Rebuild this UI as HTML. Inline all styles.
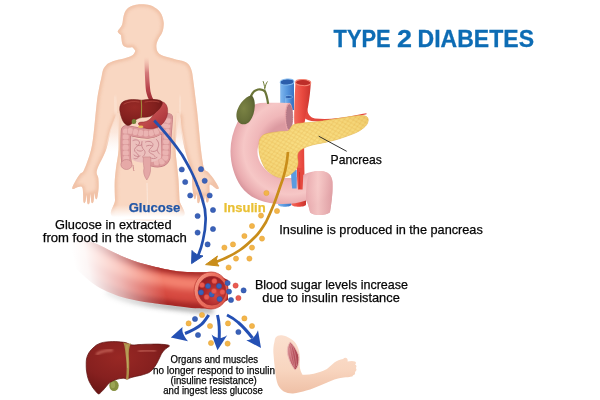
<!DOCTYPE html>
<html lang="en"><head><meta charset="utf-8"><title>Type 2 Diabetes</title>
<style>
html,body{margin:0;padding:0;background:#fff;}
body{width:600px;height:400px;overflow:hidden;font-family:"Liberation Sans",sans-serif;}
svg{display:block;}
text{font-family:"Liberation Sans",sans-serif;}
</style></head><body>
<svg width="600" height="400" viewBox="0 0 600 400">
<defs>
  <linearGradient id="bodyFade" x1="0" y1="0" x2="0" y2="1" gradientUnits="objectBoundingBox">
    <stop offset="0" stop-color="#fff" stop-opacity="0"/>
    <stop offset="1" stop-color="#fff" stop-opacity="1"/>
  </linearGradient>
  <linearGradient id="skin" x1="0" y1="0" x2="1" y2="0">
    <stop offset="0" stop-color="#f9d8c4"/>
    <stop offset="1" stop-color="#f7d0b9"/>
  </linearGradient>
</defs>
<rect width="600" height="400" fill="#fff"/>

<defs>
  <linearGradient id="gapFade" x1="0" y1="113" x2="0" y2="152" gradientUnits="userSpaceOnUse">
    <stop offset="0" stop-color="#f9d9c6" stop-opacity="1"/>
    <stop offset="0.5" stop-color="#fbe3d5" stop-opacity="0.800"/>
    <stop offset="1" stop-color="#fdeee6" stop-opacity="0"/>
  </linearGradient>
</defs>
<defs>
  <clipPath id="bodyClip"><path d="M142.0,4.3 C144.0,4.4 147.7,4.6 150.0,5.3 C152.3,6.0 154.3,7.2 156.0,8.3 C157.7,9.4 158.9,10.6 160.0,12.0 C161.1,13.4 161.9,15.2 162.5,17.0 C163.1,18.8 163.5,20.8 163.7,22.5 C163.9,24.2 163.6,25.8 163.5,27.0 C163.4,28.2 163.3,28.8 163.0,30.0 C162.7,31.2 162.1,32.8 161.5,34.0 C160.9,35.2 159.9,36.2 159.2,37.5 C158.5,38.8 157.8,40.2 157.3,41.5 C156.8,42.8 156.5,43.9 156.4,45.0 C156.3,46.1 156.4,47.0 156.5,48.0 C156.6,49.0 156.7,50.0 157.2,51.0 C157.7,52.0 158.4,53.2 159.5,54.0 C160.6,54.8 161.9,55.4 163.5,56.0 C165.1,56.6 167.1,57.1 169.0,57.6 C170.9,58.1 172.8,58.7 175.0,59.2 C177.2,59.7 180.0,60.2 182.0,60.8 C184.0,61.4 185.7,62.0 187.0,63.0 C188.3,64.0 189.2,65.0 190.0,66.5 C190.8,68.0 191.5,69.8 192.0,72.0 C192.5,74.2 192.8,77.0 193.2,80.0 C193.6,83.0 193.9,85.0 194.5,90.0 C195.1,95.0 196.2,103.3 197.0,110.0 C197.8,116.7 198.3,123.3 199.0,130.0 C199.7,136.7 200.2,143.7 201.0,150.0 C201.8,156.3 202.8,164.3 204.0,168.0 C205.2,171.7 206.5,170.3 208.0,172.0 C209.5,173.7 211.2,175.5 213.0,178.0 C214.8,180.5 217.8,185.2 218.5,187.0 C219.2,188.8 218.4,189.4 217.0,189.0 C215.6,188.6 211.2,184.0 210.0,184.5 C208.8,185.0 209.8,189.2 209.5,192.0 C209.2,194.8 209.0,199.3 208.5,201.0 C208.0,202.7 207.1,203.0 206.5,202.0 C205.9,201.0 205.4,194.8 205.0,195.0 C204.6,195.2 204.5,201.6 204.0,203.0 C203.5,204.4 202.5,204.8 202.0,203.5 C201.5,202.2 201.4,195.2 201.0,195.0 C200.6,194.8 200.1,200.8 199.5,202.0 C198.9,203.2 197.9,203.8 197.5,202.5 C197.1,201.2 197.3,194.7 197.0,194.0 C196.7,193.3 196.0,197.8 195.5,198.5 C195.0,199.2 194.5,199.8 194.0,198.0 C193.5,196.2 192.8,191.3 192.5,188.0 C192.2,184.7 192.2,181.0 192.0,178.0 C191.8,175.0 192.2,174.7 191.0,170.0 C189.8,165.3 186.7,156.7 185.0,150.0 C183.3,143.3 181.8,135.0 181.0,130.0 C180.2,125.0 180.7,122.4 180.5,120.0 C180.3,117.6 180.1,115.5 179.8,115.5 C179.5,115.5 179.1,117.6 178.6,120.0 C178.1,122.4 177.5,125.3 177.0,130.0 C176.5,134.7 175.5,142.2 175.5,148.0 C175.5,153.8 176.5,159.7 177.0,165.0 C177.5,170.3 178.1,174.2 178.5,180.0 C178.9,185.8 179.2,193.7 179.5,200.0 C179.8,206.3 190.6,215.0 180.0,218.0 C169.4,221.0 126.6,221.0 115.8,218.0 C105.0,215.0 115.2,206.0 115.0,200.0 C114.8,194.0 114.5,187.3 114.7,182.0 C114.9,176.7 115.4,173.3 116.0,168.0 C116.6,162.7 118.2,156.3 118.5,150.0 C118.8,143.7 118.2,135.0 118.0,130.0 C117.8,125.0 117.7,122.4 117.5,120.0 C117.3,117.6 117.0,115.5 116.6,115.5 C116.2,115.5 115.9,117.6 115.0,120.0 C114.1,122.4 112.5,125.0 111.0,130.0 C109.5,135.0 108.3,143.3 106.0,150.0 C103.7,156.7 98.3,165.3 97.0,170.0 C95.7,174.7 98.0,175.0 98.3,178.0 C98.6,181.0 98.8,184.7 98.6,188.0 C98.4,191.3 97.7,196.2 97.2,198.0 C96.7,199.8 96.0,199.3 95.5,198.5 C95.0,197.7 94.8,192.5 94.5,193.0 C94.2,193.5 94.0,199.9 93.5,201.5 C93.0,203.1 92.0,203.8 91.5,202.5 C91.0,201.2 90.8,193.9 90.5,194.0 C90.2,194.1 90.0,201.4 89.5,203.0 C89.0,204.6 88.0,204.8 87.5,203.5 C87.0,202.2 86.8,195.3 86.5,195.0 C86.2,194.7 86.0,200.3 85.5,201.5 C85.0,202.7 84.0,204.2 83.5,202.0 C83.0,199.8 83.4,190.5 82.5,188.0 C81.6,185.5 79.5,186.8 78.0,187.0 C76.5,187.2 74.5,188.9 73.5,189.0 C72.5,189.1 71.9,189.0 72.3,187.5 C72.7,186.0 74.7,182.2 76.0,180.0 C77.3,177.8 78.7,175.7 80.0,174.0 C81.3,172.3 82.2,174.0 84.0,170.0 C85.8,166.0 89.3,156.7 91.0,150.0 C92.7,143.3 93.2,136.7 94.0,130.0 C94.8,123.3 95.4,115.5 96.0,110.0 C96.6,104.5 96.9,101.0 97.5,97.0 C98.1,93.0 98.9,89.2 99.5,86.0 C100.1,82.8 100.7,80.7 101.3,78.0 C101.9,75.3 102.3,72.0 103.0,70.0 C103.7,68.0 104.6,67.1 105.5,66.0 C106.4,64.9 107.2,64.1 108.5,63.3 C109.8,62.5 111.4,61.8 113.0,61.2 C114.6,60.6 116.2,60.3 118.0,59.8 C119.8,59.3 122.0,58.9 124.0,58.4 C126.0,57.9 128.4,57.2 130.0,56.5 C131.6,55.8 132.6,55.1 133.5,54.2 C134.4,53.3 135.1,51.9 135.2,51.0 C135.3,50.1 134.5,49.6 134.0,49.0 C133.5,48.4 133.0,47.5 132.2,47.3 C131.4,47.0 130.0,47.5 129.0,47.5 C128.0,47.5 127.0,47.4 126.2,47.2 C125.4,47.0 124.6,46.8 124.0,46.3 C123.4,45.8 122.9,45.0 122.5,44.2 C122.1,43.4 122.0,42.4 121.8,41.5 C121.6,40.6 121.6,39.8 121.5,39.0 C121.4,38.2 121.3,37.6 121.2,37.0 C121.1,36.4 121.4,35.8 121.0,35.2 C120.6,34.6 119.5,34.1 119.0,33.5 C118.5,32.9 117.7,32.2 117.7,31.5 C117.7,30.8 118.4,30.1 118.8,29.5 C119.2,28.9 119.7,28.4 120.2,27.7 C120.7,27.0 121.3,26.3 121.7,25.5 C122.1,24.7 122.2,24.2 122.5,23.0 C122.8,21.8 122.9,19.7 123.2,18.0 C123.5,16.3 123.9,14.5 124.5,13.0 C125.1,11.5 126.0,10.1 127.0,9.0 C128.0,7.9 129.3,7.1 130.5,6.5 C131.7,5.9 132.8,5.5 134.0,5.2 C135.2,4.9 136.7,4.6 138.0,4.4 C139.3,4.2 140.0,4.2 142.0,4.3 Z"/></clipPath>
  <filter id="bblur" x="-10%" y="-10%" width="120%" height="120%"><feGaussianBlur stdDeviation="1.800"/></filter>
</defs>
<g id="human">
  <path fill="#f9d7c2" d="M142.0,4.3 C144.0,4.4 147.7,4.6 150.0,5.3 C152.3,6.0 154.3,7.2 156.0,8.3 C157.7,9.4 158.9,10.6 160.0,12.0 C161.1,13.4 161.9,15.2 162.5,17.0 C163.1,18.8 163.5,20.8 163.7,22.5 C163.9,24.2 163.6,25.8 163.5,27.0 C163.4,28.2 163.3,28.8 163.0,30.0 C162.7,31.2 162.1,32.8 161.5,34.0 C160.9,35.2 159.9,36.2 159.2,37.5 C158.5,38.8 157.8,40.2 157.3,41.5 C156.8,42.8 156.5,43.9 156.4,45.0 C156.3,46.1 156.4,47.0 156.5,48.0 C156.6,49.0 156.7,50.0 157.2,51.0 C157.7,52.0 158.4,53.2 159.5,54.0 C160.6,54.8 161.9,55.4 163.5,56.0 C165.1,56.6 167.1,57.1 169.0,57.6 C170.9,58.1 172.8,58.7 175.0,59.2 C177.2,59.7 180.0,60.2 182.0,60.8 C184.0,61.4 185.7,62.0 187.0,63.0 C188.3,64.0 189.2,65.0 190.0,66.5 C190.8,68.0 191.5,69.8 192.0,72.0 C192.5,74.2 192.8,77.0 193.2,80.0 C193.6,83.0 193.9,85.0 194.5,90.0 C195.1,95.0 196.2,103.3 197.0,110.0 C197.8,116.7 198.3,123.3 199.0,130.0 C199.7,136.7 200.2,143.7 201.0,150.0 C201.8,156.3 202.8,164.3 204.0,168.0 C205.2,171.7 206.5,170.3 208.0,172.0 C209.5,173.7 211.2,175.5 213.0,178.0 C214.8,180.5 217.8,185.2 218.5,187.0 C219.2,188.8 218.4,189.4 217.0,189.0 C215.6,188.6 211.2,184.0 210.0,184.5 C208.8,185.0 209.8,189.2 209.5,192.0 C209.2,194.8 209.0,199.3 208.5,201.0 C208.0,202.7 207.1,203.0 206.5,202.0 C205.9,201.0 205.4,194.8 205.0,195.0 C204.6,195.2 204.5,201.6 204.0,203.0 C203.5,204.4 202.5,204.8 202.0,203.5 C201.5,202.2 201.4,195.2 201.0,195.0 C200.6,194.8 200.1,200.8 199.5,202.0 C198.9,203.2 197.9,203.8 197.5,202.5 C197.1,201.2 197.3,194.7 197.0,194.0 C196.7,193.3 196.0,197.8 195.5,198.5 C195.0,199.2 194.5,199.8 194.0,198.0 C193.5,196.2 192.8,191.3 192.5,188.0 C192.2,184.7 192.2,181.0 192.0,178.0 C191.8,175.0 192.2,174.7 191.0,170.0 C189.8,165.3 186.7,156.7 185.0,150.0 C183.3,143.3 181.8,135.0 181.0,130.0 C180.2,125.0 180.7,122.4 180.5,120.0 C180.3,117.6 180.1,115.5 179.8,115.5 C179.5,115.5 179.1,117.6 178.6,120.0 C178.1,122.4 177.5,125.3 177.0,130.0 C176.5,134.7 175.5,142.2 175.5,148.0 C175.5,153.8 176.5,159.7 177.0,165.0 C177.5,170.3 178.1,174.2 178.5,180.0 C178.9,185.8 179.2,193.7 179.5,200.0 C179.8,206.3 190.6,215.0 180.0,218.0 C169.4,221.0 126.6,221.0 115.8,218.0 C105.0,215.0 115.2,206.0 115.0,200.0 C114.8,194.0 114.5,187.3 114.7,182.0 C114.9,176.7 115.4,173.3 116.0,168.0 C116.6,162.7 118.2,156.3 118.5,150.0 C118.8,143.7 118.2,135.0 118.0,130.0 C117.8,125.0 117.7,122.4 117.5,120.0 C117.3,117.6 117.0,115.5 116.6,115.5 C116.2,115.5 115.9,117.6 115.0,120.0 C114.1,122.4 112.5,125.0 111.0,130.0 C109.5,135.0 108.3,143.3 106.0,150.0 C103.7,156.7 98.3,165.3 97.0,170.0 C95.7,174.7 98.0,175.0 98.3,178.0 C98.6,181.0 98.8,184.7 98.6,188.0 C98.4,191.3 97.7,196.2 97.2,198.0 C96.7,199.8 96.0,199.3 95.5,198.5 C95.0,197.7 94.8,192.5 94.5,193.0 C94.2,193.5 94.0,199.9 93.5,201.5 C93.0,203.1 92.0,203.8 91.5,202.5 C91.0,201.2 90.8,193.9 90.5,194.0 C90.2,194.1 90.0,201.4 89.5,203.0 C89.0,204.6 88.0,204.8 87.5,203.5 C87.0,202.2 86.8,195.3 86.5,195.0 C86.2,194.7 86.0,200.3 85.5,201.5 C85.0,202.7 84.0,204.2 83.5,202.0 C83.0,199.8 83.4,190.5 82.5,188.0 C81.6,185.5 79.5,186.8 78.0,187.0 C76.5,187.2 74.5,188.9 73.5,189.0 C72.5,189.1 71.9,189.0 72.3,187.5 C72.7,186.0 74.7,182.2 76.0,180.0 C77.3,177.8 78.7,175.7 80.0,174.0 C81.3,172.3 82.2,174.0 84.0,170.0 C85.8,166.0 89.3,156.7 91.0,150.0 C92.7,143.3 93.2,136.7 94.0,130.0 C94.8,123.3 95.4,115.5 96.0,110.0 C96.6,104.5 96.9,101.0 97.5,97.0 C98.1,93.0 98.9,89.2 99.5,86.0 C100.1,82.8 100.7,80.7 101.3,78.0 C101.9,75.3 102.3,72.0 103.0,70.0 C103.7,68.0 104.6,67.1 105.5,66.0 C106.4,64.9 107.2,64.1 108.5,63.3 C109.8,62.5 111.4,61.8 113.0,61.2 C114.6,60.6 116.2,60.3 118.0,59.8 C119.8,59.3 122.0,58.9 124.0,58.4 C126.0,57.9 128.4,57.2 130.0,56.5 C131.6,55.8 132.6,55.1 133.5,54.2 C134.4,53.3 135.1,51.9 135.2,51.0 C135.3,50.1 134.5,49.6 134.0,49.0 C133.5,48.4 133.0,47.5 132.2,47.3 C131.4,47.0 130.0,47.5 129.0,47.5 C128.0,47.5 127.0,47.4 126.2,47.2 C125.4,47.0 124.6,46.8 124.0,46.3 C123.4,45.8 122.9,45.0 122.5,44.2 C122.1,43.4 122.0,42.4 121.8,41.5 C121.6,40.6 121.6,39.8 121.5,39.0 C121.4,38.2 121.3,37.6 121.2,37.0 C121.1,36.4 121.4,35.8 121.0,35.2 C120.6,34.6 119.5,34.1 119.0,33.5 C118.5,32.9 117.7,32.2 117.7,31.5 C117.7,30.8 118.4,30.1 118.8,29.5 C119.2,28.9 119.7,28.4 120.2,27.7 C120.7,27.0 121.3,26.3 121.7,25.5 C122.1,24.7 122.2,24.2 122.5,23.0 C122.8,21.8 122.9,19.7 123.2,18.0 C123.5,16.3 123.9,14.5 124.5,13.0 C125.1,11.5 126.0,10.1 127.0,9.0 C128.0,7.9 129.3,7.1 130.5,6.5 C131.7,5.9 132.8,5.5 134.0,5.2 C135.2,4.9 136.7,4.6 138.0,4.4 C139.3,4.2 140.0,4.2 142.0,4.3 Z"/>
  <g clip-path="url(#bodyClip)">
    <path d="M142.0,4.3 C144.0,4.4 147.7,4.6 150.0,5.3 C152.3,6.0 154.3,7.2 156.0,8.3 C157.7,9.4 158.9,10.6 160.0,12.0 C161.1,13.4 161.9,15.2 162.5,17.0 C163.1,18.8 163.5,20.8 163.7,22.5 C163.9,24.2 163.6,25.8 163.5,27.0 C163.4,28.2 163.3,28.8 163.0,30.0 C162.7,31.2 162.1,32.8 161.5,34.0 C160.9,35.2 159.9,36.2 159.2,37.5 C158.5,38.8 157.8,40.2 157.3,41.5 C156.8,42.8 156.5,43.9 156.4,45.0 C156.3,46.1 156.4,47.0 156.5,48.0 C156.6,49.0 156.7,50.0 157.2,51.0 C157.7,52.0 158.4,53.2 159.5,54.0 C160.6,54.8 161.9,55.4 163.5,56.0 C165.1,56.6 167.1,57.1 169.0,57.6 C170.9,58.1 172.8,58.7 175.0,59.2 C177.2,59.7 180.0,60.2 182.0,60.8 C184.0,61.4 185.7,62.0 187.0,63.0 C188.3,64.0 189.2,65.0 190.0,66.5 C190.8,68.0 191.5,69.8 192.0,72.0 C192.5,74.2 192.8,77.0 193.2,80.0 C193.6,83.0 193.9,85.0 194.5,90.0 C195.1,95.0 196.2,103.3 197.0,110.0 C197.8,116.7 198.3,123.3 199.0,130.0 C199.7,136.7 200.2,143.7 201.0,150.0 C201.8,156.3 202.8,164.3 204.0,168.0 C205.2,171.7 206.5,170.3 208.0,172.0 C209.5,173.7 211.2,175.5 213.0,178.0 C214.8,180.5 217.8,185.2 218.5,187.0 C219.2,188.8 218.4,189.4 217.0,189.0 C215.6,188.6 211.2,184.0 210.0,184.5 C208.8,185.0 209.8,189.2 209.5,192.0 C209.2,194.8 209.0,199.3 208.5,201.0 C208.0,202.7 207.1,203.0 206.5,202.0 C205.9,201.0 205.4,194.8 205.0,195.0 C204.6,195.2 204.5,201.6 204.0,203.0 C203.5,204.4 202.5,204.8 202.0,203.5 C201.5,202.2 201.4,195.2 201.0,195.0 C200.6,194.8 200.1,200.8 199.5,202.0 C198.9,203.2 197.9,203.8 197.5,202.5 C197.1,201.2 197.3,194.7 197.0,194.0 C196.7,193.3 196.0,197.8 195.5,198.5 C195.0,199.2 194.5,199.8 194.0,198.0 C193.5,196.2 192.8,191.3 192.5,188.0 C192.2,184.7 192.2,181.0 192.0,178.0 C191.8,175.0 192.2,174.7 191.0,170.0 C189.8,165.3 186.7,156.7 185.0,150.0 C183.3,143.3 181.8,135.0 181.0,130.0 C180.2,125.0 180.7,122.4 180.5,120.0 C180.3,117.6 180.1,115.5 179.8,115.5 C179.5,115.5 179.1,117.6 178.6,120.0 C178.1,122.4 177.5,125.3 177.0,130.0 C176.5,134.7 175.5,142.2 175.5,148.0 C175.5,153.8 176.5,159.7 177.0,165.0 C177.5,170.3 178.1,174.2 178.5,180.0 C178.9,185.8 179.2,193.7 179.5,200.0 C179.8,206.3 190.6,215.0 180.0,218.0 C169.4,221.0 126.6,221.0 115.8,218.0 C105.0,215.0 115.2,206.0 115.0,200.0 C114.8,194.0 114.5,187.3 114.7,182.0 C114.9,176.7 115.4,173.3 116.0,168.0 C116.6,162.7 118.2,156.3 118.5,150.0 C118.8,143.7 118.2,135.0 118.0,130.0 C117.8,125.0 117.7,122.4 117.5,120.0 C117.3,117.6 117.0,115.5 116.6,115.5 C116.2,115.5 115.9,117.6 115.0,120.0 C114.1,122.4 112.5,125.0 111.0,130.0 C109.5,135.0 108.3,143.3 106.0,150.0 C103.7,156.7 98.3,165.3 97.0,170.0 C95.7,174.7 98.0,175.0 98.3,178.0 C98.6,181.0 98.8,184.7 98.6,188.0 C98.4,191.3 97.7,196.2 97.2,198.0 C96.7,199.8 96.0,199.3 95.5,198.5 C95.0,197.7 94.8,192.5 94.5,193.0 C94.2,193.5 94.0,199.9 93.5,201.5 C93.0,203.1 92.0,203.8 91.5,202.5 C91.0,201.2 90.8,193.9 90.5,194.0 C90.2,194.1 90.0,201.4 89.5,203.0 C89.0,204.6 88.0,204.8 87.5,203.5 C87.0,202.2 86.8,195.3 86.5,195.0 C86.2,194.7 86.0,200.3 85.5,201.5 C85.0,202.7 84.0,204.2 83.5,202.0 C83.0,199.8 83.4,190.5 82.5,188.0 C81.6,185.5 79.5,186.8 78.0,187.0 C76.5,187.2 74.5,188.9 73.5,189.0 C72.5,189.1 71.9,189.0 72.3,187.5 C72.7,186.0 74.7,182.2 76.0,180.0 C77.3,177.8 78.7,175.7 80.0,174.0 C81.3,172.3 82.2,174.0 84.0,170.0 C85.8,166.0 89.3,156.7 91.0,150.0 C92.7,143.3 93.2,136.7 94.0,130.0 C94.8,123.3 95.4,115.5 96.0,110.0 C96.6,104.5 96.9,101.0 97.5,97.0 C98.1,93.0 98.9,89.2 99.5,86.0 C100.1,82.8 100.7,80.7 101.3,78.0 C101.9,75.3 102.3,72.0 103.0,70.0 C103.7,68.0 104.6,67.1 105.5,66.0 C106.4,64.9 107.2,64.1 108.5,63.3 C109.8,62.5 111.4,61.8 113.0,61.2 C114.6,60.6 116.2,60.3 118.0,59.8 C119.8,59.3 122.0,58.9 124.0,58.4 C126.0,57.9 128.4,57.2 130.0,56.5 C131.6,55.8 132.6,55.1 133.5,54.2 C134.4,53.3 135.1,51.9 135.2,51.0 C135.3,50.1 134.5,49.6 134.0,49.0 C133.5,48.4 133.0,47.5 132.2,47.3 C131.4,47.0 130.0,47.5 129.0,47.5 C128.0,47.5 127.0,47.4 126.2,47.2 C125.4,47.0 124.6,46.8 124.0,46.3 C123.4,45.8 122.9,45.0 122.5,44.2 C122.1,43.4 122.0,42.4 121.8,41.5 C121.6,40.6 121.6,39.8 121.5,39.0 C121.4,38.2 121.3,37.6 121.2,37.0 C121.1,36.4 121.4,35.8 121.0,35.2 C120.6,34.6 119.5,34.1 119.0,33.5 C118.5,32.9 117.7,32.2 117.7,31.5 C117.7,30.8 118.4,30.1 118.8,29.5 C119.2,28.9 119.7,28.4 120.2,27.7 C120.7,27.0 121.3,26.3 121.7,25.5 C122.1,24.7 122.2,24.2 122.5,23.0 C122.8,21.8 122.9,19.7 123.2,18.0 C123.5,16.3 123.9,14.5 124.5,13.0 C125.1,11.5 126.0,10.1 127.0,9.0 C128.0,7.9 129.3,7.1 130.5,6.5 C131.7,5.9 132.8,5.5 134.0,5.2 C135.2,4.9 136.7,4.6 138.0,4.4 C139.3,4.2 140.0,4.2 142.0,4.3 Z" fill="none" stroke="#eebb9f" stroke-width="5" opacity="0.750" filter="url(#bblur)"/>
    <path d="M114.500,96 C115,103 115.800,109 116.600,116" fill="none" stroke="#fdeade" stroke-width="2.200" opacity="0.800" filter="url(#bblur)"/>
    <path d="M180.500,96 C180.300,103 180,109 179.800,116" fill="none" stroke="#fdeade" stroke-width="2.200" opacity="0.800" filter="url(#bblur)"/>
  </g>
  <path id="gapL" d="M116.600,113 L119.500,113 L119.500,152 L104,152 L110,130 Z" fill="url(#gapFade)"/>
  <path id="gapR" d="M179.800,113 L176.500,113 L174.500,152 L187,152 L182,130 Z" fill="url(#gapFade)"/>
  <path d="M147,183 C147.300,195 147.500,205 147.500,218" fill="none" stroke="#fce9de" stroke-width="0.900"/>
  <rect x="60" y="205" width="170" height="12" fill="url(#bodyFade)"/>
  <rect x="60" y="216.800" width="170" height="3" fill="#fff"/>
</g>

<defs>
  <linearGradient id="esoph" x1="0" y1="0" x2="0" y2="1">
    <stop offset="0" stop-color="#e9a59a" stop-opacity="0"/>
    <stop offset="0.35" stop-color="#d07074" stop-opacity="0.9"/>
    <stop offset="0.7" stop-color="#b8444c"/>
    <stop offset="1" stop-color="#982830"/>
  </linearGradient>
  <radialGradient id="liverG" cx="0.35" cy="0.3" r="0.8">
    <stop offset="0" stop-color="#982a26"/>
    <stop offset="0.6" stop-color="#82201e"/>
    <stop offset="1" stop-color="#641514"/>
  </radialGradient>
  <linearGradient id="stomG" x1="0" y1="0" x2="1" y2="1">
    <stop offset="0" stop-color="#a83036"/>
    <stop offset="0.5" stop-color="#c04a4c"/>
    <stop offset="1" stop-color="#a22c33"/>
  </linearGradient>
</defs>
<g id="organs">
  <!-- esophagus -->
  <path d="M144.300,57 L148.600,57 C148.900,72 149.500,84 150.500,91.500 C151.300,95.500 152.800,98.500 154.500,101.500 L150.300,102 C148.300,99 146.800,95 146,91 C145.200,83 144.700,70 144.300,57 Z" fill="url(#esoph)"/>
  <!-- large intestine -->
  <g fill="none" stroke-linejoin="round" stroke-linecap="round">
    <path id="colon" d="M126.500,163.500 C125.500,153 125.500,140 126,130.500 C133,131 141,134 148,133.500 C155,133 160.500,130 164,126 C166,123.500 167.300,120.500 167.800,118 C167.500,124 166.300,135 165.800,147 C165.600,151 165.500,154 165.300,157.500 C163.500,162.500 158,163 152.500,161.500" stroke="#c27c82" stroke-width="10.400"/>
    <path d="M126.500,163.500 C125.500,153 125.500,140 126,130.500 C133,131 141,134 148,133.500 C155,133 160.500,130 164,126 C166,123.500 167.300,120.500 167.800,118 C167.500,124 166.300,135 165.800,147 C165.600,151 165.500,154 165.300,157.500 C163.500,162.500 158,163 152.500,161.500" stroke="#de9b9c" stroke-width="9"/>
    <path d="M126.500,163.500 C125.500,153 125.500,140 126,130.500 C133,131 141,134 148,133.500 C155,133 160.500,130 164,126 C166,123.500 167.300,120.500 167.800,118 C167.500,124 166.300,135 165.800,147 C165.600,151 165.500,154 165.300,157.500 C163.500,162.500 158,163 152.500,161.500" stroke="#ebb4b2" stroke-width="6" stroke-dasharray="0.100 5.200"/>
    <path d="M126.500,163.500 C125.500,153 125.500,140 126,130.500 C133,131 141,134 148,133.500 C155,133 160.500,130 164,126 C166,123.500 167.300,120.500 167.800,118 C167.500,124 166.300,135 165.800,147 C165.600,151 165.500,154 165.300,157.500 C163.500,162.500 158,163 152.500,161.500" stroke="#d08f90" stroke-width="8.500" stroke-dasharray="0.600 4.700" stroke-dashoffset="-2.600" stroke-linecap="butt" opacity="0.700"/>
  </g>
  <!-- cecum & appendix -->
  <ellipse cx="126.500" cy="164.500" rx="5.600" ry="5" fill="#e6a9a7" stroke="#c9868a" stroke-width="0.700"/>
  <path d="M133,165 C133.500,167 133,169 134,171" fill="none" stroke="#cf8d8d" stroke-width="1"/>
  <!-- small intestine -->
  <path d="M131,136.500 C137,139 143,140.500 149,139.500 C154,138.500 158,136.500 161,134.500 L161,158 C157,161 152,162.500 147,162.500 C141,163 135,162 131.500,159 Z" fill="#ecc0bd"/>
  <g fill="none" stroke-linecap="round" stroke-linejoin="round" stroke="#c7858b" stroke-width="0.900">
    <path d="M133,140.500 C136,139 139.500,140 139.500,143 C139.500,146 135,146.500 134.500,149.500 C134,152.500 138,153 138.500,155.500 C139,158 136,159.500 134,158.500"/>
    <path d="M142,141.500 C141,145 142,148 144,150 C146,152 145,155 142.500,157"/>
    <path d="M145.500,142 C148.500,140.500 152.500,141.500 153,144.500 C153.500,147.500 149,148 149,151 C149,154 154,153.500 155,156.500"/>
    <path d="M156.500,139.500 C158.500,141.500 159.500,144.500 158,147.500 C156.500,150.500 158,152.500 159.500,154"/>
    <path d="M136,144.500 C138,146 141,146 142,144.500"/>
    <path d="M146.500,146 C148.500,145 150.500,145 152,146"/>
    <path d="M150,157.500 C152,159 155,159 157,157.500"/>
    <path d="M137,150 C139,151.500 141,151.500 142.500,150.500"/>
    <path d="M151,151 C153,152 155.500,151.500 157,150"/>
    <path d="M134,155 C135.500,156.500 138,157 140,156"/>
    <path d="M145,158.500 C146.500,160 148.500,160 150,159"/>
  </g>
  <!-- rectum -->
  <path d="M143.500,157 C143,161 143.500,165 144,168 C143,172 144,176 146.800,180 C149.500,176 151,172 150.500,168 C151,164 151,160 150.500,157 Z" fill="#e4a7a6" stroke="#c9868a" stroke-width="0.600"/>
  <!-- stomach -->
  <path d="M151,100.500 C155,100 160,100.500 164,102.500 C167.500,105 168.500,110 167,116 C165.500,121 162,125.500 157,127.500 C152,129.500 146,129 142,127 C139.500,126 138,124.500 138.500,123 C140,121.500 143,122.500 146,121.500 C149,120.500 151,118.500 152.500,116 C155,112 156,107 154,101.500 Z" fill="url(#stomG)" stroke="#8f262c" stroke-width="0.500"/>
  <!-- pancreas bit -->
  <ellipse cx="140.700" cy="126.700" rx="2.600" ry="1.300" fill="#e9c15a"/>
  <!-- liver -->
  <path d="M119.700,110 C119.500,105 121.500,102 125,100.800 C129,99.300 135,99 141.500,100.200 C148,99.200 155,99 159.500,100.200 C162,101 163,102.500 162,104.500 C160.500,108 158,110.500 156.500,111.500 C154.500,113.500 152.500,115.500 150.500,116.300 C147,117.500 143,117 140,117.800 C137.500,118.500 135.500,120 134,121.500 C132,123.500 130,125.500 128,125.500 C125.500,125 123,122 122,119 C120.800,116 120,113 119.700,110 Z" fill="url(#liverG)" stroke="#6a1715" stroke-width="0.500"/>
  <path d="M141.200,100.200 C142,106 141.500,112 141.200,118" fill="none" stroke="#a08a3c" stroke-width="1.100"/>
  <path d="M124,104 C128,101.500 134,101 139,102" fill="none" stroke="#c2574c" stroke-width="0.800" opacity="0.700" stroke-linecap="round"/>
  <path d="M145,102 C150,101 155,101 159,102" fill="none" stroke="#c2574c" stroke-width="0.800" opacity="0.700" stroke-linecap="round"/>
  <!-- gallbladder -->
  <ellipse cx="134" cy="121.500" rx="2.300" ry="2.600" fill="#748238"/>
</g>

<defs>
  <linearGradient id="veinG" x1="0" y1="0" x2="1" y2="0">
    <stop offset="0" stop-color="#82b8ee"/>
    <stop offset="0.45" stop-color="#5a9ae0"/>
    <stop offset="1" stop-color="#3873c4"/>
  </linearGradient>
  <linearGradient id="artG" x1="0" y1="0" x2="1" y2="0">
    <stop offset="0" stop-color="#f4685a"/>
    <stop offset="0.5" stop-color="#e8493f"/>
    <stop offset="1" stop-color="#c9342e"/>
  </linearGradient>
  <radialGradient id="gbG" cx="0.4" cy="0.45" r="0.7">
    <stop offset="0" stop-color="#7b8344"/>
    <stop offset="0.6" stop-color="#687039"/>
    <stop offset="1" stop-color="#525a2c"/>
  </radialGradient>
  <linearGradient id="duoH" x1="0" y1="0" x2="0" y2="1">
    <stop offset="0" stop-color="#d99aa0"/>
    <stop offset="0.3" stop-color="#f2bcbc"/>
    <stop offset="0.6" stop-color="#eeb3b4"/>
    <stop offset="1" stop-color="#d58f96"/>
  </linearGradient>
  <radialGradient id="duoR" cx="290" cy="148" r="62" gradientUnits="userSpaceOnUse">
    <stop offset="0.4" stop-color="#dc9aa1"/>
    <stop offset="0.55" stop-color="#f0b7b9"/>
    <stop offset="0.75" stop-color="#f6c7c6"/>
    <stop offset="0.92" stop-color="#e9abaf"/>
    <stop offset="1" stop-color="#d9969d"/>
  </radialGradient>
  <linearGradient id="stubG" x1="0" y1="0" x2="1" y2="0">
    <stop offset="0" stop-color="#e8a9ad"/>
    <stop offset="0.45" stop-color="#f7cbc9"/>
    <stop offset="1" stop-color="#e0a0a5"/>
  </linearGradient>
  <radialGradient id="panG" cx="0.45" cy="0.45" r="0.75">
    <stop offset="0" stop-color="#f8da76"/>
    <stop offset="0.7" stop-color="#f2cb60"/>
    <stop offset="1" stop-color="#e3b448"/>
  </radialGradient>
  <pattern id="panTex" width="5.600" height="4.800" patternUnits="userSpaceOnUse" patternTransform="rotate(-12)">
    <ellipse cx="1.400" cy="1.200" rx="2.300" ry="1.900" fill="#fbe594" fill-opacity="0.450" stroke="#dfae48" stroke-opacity="0.550" stroke-width="0.450"/>
    <ellipse cx="4.200" cy="3.600" rx="2.300" ry="1.900" fill="#fbe594" fill-opacity="0.450" stroke="#dfae48" stroke-opacity="0.550" stroke-width="0.450"/>
    <ellipse cx="7" cy="1.200" rx="2.300" ry="1.900" fill="#fbe594" fill-opacity="0.450" stroke="#dfae48" stroke-opacity="0.550" stroke-width="0.450"/>
    <ellipse cx="-1.400" cy="3.600" rx="2.300" ry="1.900" fill="#fbe594" fill-opacity="0.450" stroke="#dfae48" stroke-opacity="0.550" stroke-width="0.450"/>
    <ellipse cx="1.400" cy="6" rx="2.300" ry="1.900" fill="#fbe594" fill-opacity="0.450" stroke="#dfae48" stroke-opacity="0.550" stroke-width="0.450"/>
    <ellipse cx="4.200" cy="-1.200" rx="2.300" ry="1.900" fill="#fbe594" fill-opacity="0.450" stroke="#dfae48" stroke-opacity="0.550" stroke-width="0.450"/>
  </pattern>
</defs>
<g id="pancreasGroup">
  <!-- bottom vessel stubs -->
  <path d="M278,196 L291.500,196 L291.500,204.500 C291.500,207.500 278,207.500 278,204.500 Z" fill="url(#veinG)"/>
  <path d="M291.500,196 L306,196 L306,204.500 C306,207.500 291.500,207.500 291.500,204.500 Z" fill="url(#artG)"/>
  <!-- vena cava -->
  <path d="M280.200,82 L294,82 L294,110 L280.200,110 Z" fill="url(#veinG)"/>
  <ellipse cx="287.100" cy="82" rx="6.900" ry="2.900" fill="#2b5dab" stroke="#86bcf0" stroke-width="1" transform="rotate(-4 287.100 82)"/>
  <path d="M285,97 L292.600,97 L292.600,108 L285,108 Z" fill="url(#veinG)"/>
  <ellipse cx="288.800" cy="97" rx="3.800" ry="1.500" fill="#2b5dab" stroke="#86bcf0" stroke-width="0.700"/>
  <!-- aorta -->
  <path d="M295.500,82.600 L310.800,82.600 C310.500,90 309.500,99 308,107 C307,113 305.300,118 304.500,123 C304,132 304,150 305,196 L297,196 C297,150 296,135 294.200,122 C294,112 294.600,97 295.500,82.600 Z" fill="url(#artG)"/>
  <ellipse cx="303.150" cy="82.600" rx="7.650" ry="3" fill="#bd2e29" stroke="#f58574" stroke-width="1" transform="rotate(3 303.150 82.600)"/>
  <!-- splenic artery branch -->
  <path d="M307.300,109 C307.800,114.500 310.500,117.800 315,118.400 C326,119.600 340,118.500 352,116 C357,114.800 362,113.800 366.500,113.200 L366.500,114.300 C362,115.300 357,116.600 352,117.800 C340,120.800 326,122 315,121.300 C310,121 306.500,120 304.500,118 Z" fill="#e4483e"/>
  <!-- duodenum C -->
  <path d="M289,103 C279,102.500 269,102.500 260,103 C250,104.500 243,111 238,121 C233,131 230.500,141 230.500,151 C230.500,164 234.500,177 241,186.500 C248.500,197 261,202.500 276,203.800 C287,204.500 298,203.500 306,200.500 C308,203 309,208 310,212 C312,216 327,216 330,212 C331.500,203 333,192 332.500,182 C332,175 328,171.500 321,171 C315,170.500 309,172 304,174.500 C298,177.500 290,178.500 282,178 C274,177 267,172 262.500,166 C258,160 256.500,153 258,147 C260,139 268,133.500 278,132 C282,131.300 286,131 289,131 Z" fill="url(#duoR)"/>
  <!-- jejunum stub overlay for shading -->
  <path d="M306,200 C308,203 309,208 310,212 C312,216 327,216 330,212 C331.500,203 333,192 332.500,182 C332,175 328,171.500 321,171 C315,170.500 311,172.500 308.500,176 C306.500,181 306,190 306,200 Z" fill="url(#stubG)" opacity="0.850"/>
  <!-- duodenum opening -->
  <ellipse cx="289" cy="117" rx="4.300" ry="14.200" fill="#e9a7ab"/>
  <ellipse cx="289.400" cy="117" rx="3.200" ry="12.600" fill="#b67a88" stroke="#9d6272" stroke-width="0.500" stroke-dasharray="1 0.800"/>
  <!-- SMV / SMA in front of duodenum -->
  <path d="M291,170 C291,176 291.500,182 292.200,188.500 L296.600,188.500 C296.800,182 296.800,176 296.600,170 Z" fill="#5a9be0"/>
    <path d="M297,168 C297,176 297.500,183 298,189.500 L302.600,189.500 C303,182 303.200,176 303.500,168 Z" fill="#e5493f"/>
  <path d="M299.500,172 L299.800,189" stroke="#c53029" stroke-width="0.800" fill="none"/>
  <!-- gallbladder -->
  <path d="M265,92 C264.800,88 264.500,85 263.200,81.500 M265,88 C265.500,85 266.300,83 267.300,81.800" fill="none" stroke="#727f3a" stroke-width="1" stroke-linecap="round"/>
  <path d="M250.500,98 C251.500,93.500 254.500,90.300 258,89.500 C261,89 263.500,89.800 265,91.500 C266.500,94.500 267.300,98.500 268,103" fill="none" stroke="#6b7538" stroke-width="2.200" stroke-linecap="round"/>
  <path d="M252,95.500 C254.300,98 255,102 254.800,106 C254.500,112 253,117 250,121 C247,124.800 242,125.500 239,122.500 C236,119.500 235.800,114 237.500,109.500 C239.300,104.500 242.500,100.500 246.500,97.500 C248.500,96 250.500,95.300 252,95.500 Z" fill="url(#gbG)"/>
  <!-- pancreas -->
  <path d="M259.0,144.0 C259.2,142.2 259.3,140.4 260.0,139.0 C260.7,137.6 261.7,136.2 263.0,135.3 C264.3,134.4 266.0,133.9 268.0,133.4 C270.0,132.9 272.7,132.5 275.0,132.2 C277.3,131.9 279.8,131.7 282.0,131.5 C284.2,131.3 286.6,131.6 288.0,131.0 C289.4,130.4 289.8,128.9 290.5,128.0 C291.2,127.0 291.6,126.0 292.5,125.3 C293.4,124.6 294.6,124.3 296.0,124.0 C297.4,123.7 299.0,123.4 301.0,123.2 C303.0,123.0 305.7,122.8 308.0,122.6 C310.3,122.4 312.2,122.3 315.0,122.0 C317.8,121.7 321.7,121.1 325.0,120.6 C328.3,120.1 331.7,119.5 335.0,119.0 C338.3,118.5 341.7,117.9 345.0,117.4 C348.3,116.9 352.3,116.3 355.0,116.0 C357.7,115.7 359.3,115.6 361.0,115.6 C362.7,115.6 363.9,115.7 365.0,116.0 C366.1,116.3 367.0,116.8 367.5,117.5 C368.0,118.2 368.2,119.1 368.2,120.0 C368.2,120.9 367.9,122.0 367.5,123.0 C367.1,124.0 366.6,124.9 365.5,126.0 C364.4,127.1 362.7,128.7 361.0,129.8 C359.3,130.9 358.2,131.6 355.5,132.8 C352.8,134.0 348.4,135.6 345.0,136.8 C341.6,138.0 338.3,139.1 335.0,140.0 C331.7,140.9 328.3,141.7 325.0,142.4 C321.7,143.1 317.6,143.7 315.0,144.3 C312.4,144.9 311.2,145.3 309.5,145.8 C307.8,146.3 306.4,146.8 305.0,147.5 C303.6,148.2 302.1,149.0 301.0,149.8 C299.9,150.6 298.8,151.3 298.2,152.5 C297.6,153.7 297.3,155.4 297.3,157.0 C297.3,158.6 298.0,160.4 298.0,162.0 C298.0,163.6 297.8,165.1 297.3,166.5 C296.8,167.9 296.1,169.2 295.0,170.5 C293.9,171.8 292.2,173.4 290.5,174.5 C288.8,175.6 286.8,176.5 285.0,177.0 C283.2,177.5 281.7,177.7 280.0,177.5 C278.3,177.3 276.8,176.8 275.0,176.0 C273.2,175.2 271.2,173.8 269.5,172.5 C267.8,171.2 266.2,169.8 265.0,168.0 C263.8,166.2 262.8,164.0 262.0,162.0 C261.2,160.0 260.5,158.0 260.0,156.0 C259.5,154.0 259.2,152.0 259.0,150.0 C258.8,148.0 258.8,145.8 259.0,144.0 Z" fill="url(#panG)" stroke="#dfae45" stroke-width="0.600"/>
  <path d="M259.0,144.0 C259.2,142.2 259.3,140.4 260.0,139.0 C260.7,137.6 261.7,136.2 263.0,135.3 C264.3,134.4 266.0,133.9 268.0,133.4 C270.0,132.9 272.7,132.5 275.0,132.2 C277.3,131.9 279.8,131.7 282.0,131.5 C284.2,131.3 286.6,131.6 288.0,131.0 C289.4,130.4 289.8,128.9 290.5,128.0 C291.2,127.0 291.6,126.0 292.5,125.3 C293.4,124.6 294.6,124.3 296.0,124.0 C297.4,123.7 299.0,123.4 301.0,123.2 C303.0,123.0 305.7,122.8 308.0,122.6 C310.3,122.4 312.2,122.3 315.0,122.0 C317.8,121.7 321.7,121.1 325.0,120.6 C328.3,120.1 331.7,119.5 335.0,119.0 C338.3,118.5 341.7,117.9 345.0,117.4 C348.3,116.9 352.3,116.3 355.0,116.0 C357.7,115.7 359.3,115.6 361.0,115.6 C362.7,115.6 363.9,115.7 365.0,116.0 C366.1,116.3 367.0,116.8 367.5,117.5 C368.0,118.2 368.2,119.1 368.2,120.0 C368.2,120.9 367.9,122.0 367.5,123.0 C367.1,124.0 366.6,124.9 365.5,126.0 C364.4,127.1 362.7,128.7 361.0,129.8 C359.3,130.9 358.2,131.6 355.5,132.8 C352.8,134.0 348.4,135.6 345.0,136.8 C341.6,138.0 338.3,139.1 335.0,140.0 C331.7,140.9 328.3,141.7 325.0,142.4 C321.7,143.1 317.6,143.7 315.0,144.3 C312.4,144.9 311.2,145.3 309.5,145.8 C307.8,146.3 306.4,146.8 305.0,147.5 C303.6,148.2 302.1,149.0 301.0,149.8 C299.9,150.6 298.8,151.3 298.2,152.5 C297.6,153.7 297.3,155.4 297.3,157.0 C297.3,158.6 298.0,160.4 298.0,162.0 C298.0,163.6 297.8,165.1 297.3,166.5 C296.8,167.9 296.1,169.2 295.0,170.5 C293.9,171.8 292.2,173.4 290.5,174.5 C288.8,175.6 286.8,176.5 285.0,177.0 C283.2,177.5 281.7,177.7 280.0,177.5 C278.3,177.3 276.8,176.8 275.0,176.0 C273.2,175.2 271.2,173.8 269.5,172.5 C267.8,171.2 266.2,169.8 265.0,168.0 C263.8,166.2 262.8,164.0 262.0,162.0 C261.2,160.0 260.5,158.0 260.0,156.0 C259.5,154.0 259.2,152.0 259.0,150.0 C258.8,148.0 258.8,145.8 259.0,144.0 Z" fill="url(#panTex)"/>
  <!-- label line -->
  <line x1="318.700" y1="136.200" x2="346.700" y2="151.300" stroke="#1a1a1a" stroke-width="0.900"/>
</g>

<defs>
  <linearGradient id="tubeFade" x1="74" y1="262" x2="156" y2="245" gradientUnits="userSpaceOnUse">
    <stop offset="0" stop-color="#fff" stop-opacity="1"/>
    <stop offset="0.150" stop-color="#fff" stop-opacity="0.950"/>
    <stop offset="0.500" stop-color="#fff" stop-opacity="0.600"/>
    <stop offset="0.780" stop-color="#fff" stop-opacity="0.250"/>
    <stop offset="1" stop-color="#fff" stop-opacity="0"/>
  </linearGradient>
  <linearGradient id="rimG" x1="0" y1="0.2" x2="1" y2="0.8">
    <stop offset="0" stop-color="#f59885"/>
    <stop offset="0.35" stop-color="#ee7564"/>
    <stop offset="1" stop-color="#d65247"/>
  </linearGradient>
  <radialGradient id="lumenG" cx="0.62" cy="0.68" r="0.75">
    <stop offset="0" stop-color="#cf4640"/>
    <stop offset="0.55" stop-color="#ad282b"/>
    <stop offset="1" stop-color="#8e1a21"/>
  </radialGradient>
  <filter id="blur2" x="-20%" y="-50%" width="140%" height="200%"><feGaussianBlur stdDeviation="2.500"/></filter>
  <filter id="blur3" x="-20%" y="-50%" width="140%" height="200%"><feGaussianBlur stdDeviation="3.500"/></filter>
  <clipPath id="tubeClip"><path d="M66.0,231.0 C68.0,232.0 74.0,235.2 78.0,237.0 C82.0,238.8 86.2,240.2 90.0,241.6 C93.8,243.0 96.1,243.7 100.5,245.7 C104.9,247.7 111.8,251.5 116.2,253.6 C120.6,255.7 123.2,256.8 127.0,258.3 C130.8,259.8 134.9,261.4 138.7,262.6 C142.5,263.8 146.2,264.7 150.0,265.6 C153.8,266.5 157.9,267.5 161.2,268.2 C164.5,268.9 166.9,269.4 170.0,270.0 C173.1,270.6 175.8,271.2 180.0,271.6 C184.2,272.0 189.8,272.2 195.0,272.3 C200.2,272.4 208.3,272.1 211.0,272.0 L228,280 L228,300 L211,309 C208.3,308.9 200.2,308.7 195.0,308.3 C189.8,307.9 185.6,307.2 180.0,306.5 C174.4,305.8 166.2,304.8 161.2,304.2 C156.2,303.6 153.8,303.2 150.0,302.7 C146.2,302.1 142.5,301.6 138.7,300.9 C134.9,300.2 130.8,299.3 127.0,298.4 C123.2,297.4 120.0,296.6 116.2,295.2 C112.4,293.8 107.8,291.9 104.0,290.0 C100.2,288.1 98.0,287.2 93.7,284.0 C89.4,280.8 82.6,274.8 78.0,270.5 C73.4,266.2 68.0,260.1 66.0,258.0 Z"/></clipPath>
</defs>
<g id="vessel">
  <path d="M106.0,291.5 C108.0,292.4 114.4,295.3 118.2,296.7 C122.0,298.1 125.2,298.9 129.0,299.9 C132.8,300.8 136.9,301.7 140.7,302.4 C144.5,303.1 148.2,303.6 152.0,304.2 C155.8,304.8 158.2,305.1 163.2,305.7 C168.2,306.3 176.4,307.3 182.0,308.0 C187.6,308.7 191.8,309.4 197.0,309.8 C202.2,310.2 210.3,310.4 213.0,310.5" fill="none" stroke="#666" stroke-width="5" opacity="0.600" filter="url(#blur2)"/>
  <g clip-path="url(#tubeClip)">
    <rect x="60" y="225" width="175" height="95" fill="#a42624"/>
    <path d="M66.0,244.5 C68.0,246.0 72.8,250.3 78.0,253.8 C83.2,257.2 90.6,261.7 97.0,265.1 C103.4,268.6 109.2,271.6 116.2,274.4 C123.2,277.2 131.2,279.8 138.7,281.8 C146.2,283.7 154.3,285.0 161.2,286.2 C168.1,287.4 174.4,288.4 180.0,289.1 C185.6,289.7 189.8,290.1 195.0,290.3 C200.2,290.5 208.3,290.5 211.0,290.5" fill="none" stroke="#d64840" stroke-width="25" filter="url(#blur2)"/>
    <path d="M66.0,239.6 C68.0,241.0 72.8,244.7 78.0,247.7 C83.2,250.7 90.6,254.4 97.0,257.6 C103.4,260.8 109.3,264.0 116.2,266.9 C123.2,269.8 131.2,272.7 138.7,274.9 C146.2,277.0 154.3,278.4 161.2,279.7 C168.1,281.0 174.4,282.1 180.0,282.8 C185.6,283.5 189.8,283.6 195.0,283.8 C200.2,284.0 208.3,283.8 211.0,283.8" fill="none" stroke="#f58572" stroke-width="12" filter="url(#blur3)"/>
    <path d="M66.0,231.0 C68.0,232.0 74.0,235.2 78.0,237.0 C82.0,238.8 86.2,240.2 90.0,241.6 C93.8,243.0 96.1,243.7 100.5,245.7 C104.9,247.7 111.8,251.5 116.2,253.6 C120.6,255.7 123.2,256.8 127.0,258.3 C130.8,259.8 134.9,261.4 138.7,262.6 C142.5,263.8 146.2,264.7 150.0,265.6 C153.8,266.5 157.9,267.5 161.2,268.2 C164.5,268.9 166.9,269.4 170.0,270.0 C173.1,270.6 175.8,271.2 180.0,271.6 C184.2,272.0 189.8,272.2 195.0,272.3 C200.2,272.4 208.3,272.1 211.0,272.0" fill="none" stroke="#b3322c" stroke-width="1.600" opacity="0.800"/>
  </g>
  <path d="M55,220 L205,220 L205,325 L55,325 Z" fill="url(#tubeFade)"/>
  <ellipse cx="211.100" cy="290.500" rx="17" ry="18.500" fill="url(#rimG)" stroke="#c23c35" stroke-width="0.800"/>
  <ellipse cx="212" cy="290.700" rx="13.800" ry="14.400" fill="url(#lumenG)" stroke="#a8302e" stroke-width="0.800"/>
</g>

<defs>
  <radialGradient id="liver2G" cx="0.4" cy="0.3" r="0.85">
    <stop offset="0" stop-color="#982824"/>
    <stop offset="0.5" stop-color="#86201f"/>
    <stop offset="1" stop-color="#5f1110"/>
  </radialGradient>
  <linearGradient id="armG" x1="0" y1="0" x2="0" y2="1">
    <stop offset="0" stop-color="#fbe0cf"/>
    <stop offset="0.6" stop-color="#f8d5bf"/>
    <stop offset="1" stop-color="#efc0a6"/>
  </linearGradient>
  <linearGradient id="muscG" x1="0" y1="0" x2="1" y2="0">
    <stop offset="0" stop-color="#dc979a"/>
    <stop offset="0.45" stop-color="#bb5561"/>
    <stop offset="1" stop-color="#a8434f"/>
  </linearGradient>
  <filter id="blur1" x="-20%" y="-20%" width="140%" height="140%"><feGaussianBlur stdDeviation="1"/></filter>
</defs>
<g id="liverBig">
  <ellipse cx="114" cy="385.600" rx="4.700" ry="5.500" fill="#869040"/>
  <ellipse cx="113" cy="385" rx="2.200" ry="3.300" fill="#a4ad5c" opacity="0.700"/>
  <path d="M125.5,342.6 C124.0,342.3 121.2,342.0 119.0,341.8 C116.8,341.6 114.7,341.6 112.5,341.6 C110.3,341.6 107.9,341.8 106.0,342.0 C104.1,342.2 102.6,342.5 101.0,343.0 C99.4,343.5 97.8,344.2 96.5,345.0 C95.2,345.8 94.1,347.0 93.0,348.0 C91.9,349.0 90.8,350.1 90.0,351.2 C89.2,352.3 88.6,353.2 88.0,354.5 C87.4,355.8 86.8,357.4 86.5,359.0 C86.2,360.6 86.2,362.5 86.2,364.3 C86.2,366.1 86.2,368.1 86.4,370.0 C86.6,371.9 86.9,373.8 87.3,375.6 C87.7,377.4 88.3,379.4 89.0,381.0 C89.7,382.6 90.6,384.1 91.4,385.4 C92.2,386.7 93.0,387.9 93.8,389.0 C94.6,390.1 95.5,391.2 96.3,392.0 C97.1,392.8 97.8,393.9 98.7,393.9 C99.6,393.9 100.5,392.7 101.5,391.8 C102.5,390.9 103.5,389.7 104.4,388.7 C105.3,387.7 106.2,386.6 107.0,385.6 C107.8,384.7 108.4,383.8 109.3,383.0 C110.2,382.2 111.4,381.6 112.5,381.0 C113.6,380.4 114.5,380.1 115.8,379.7 C117.0,379.3 118.6,378.9 120.0,378.6 C121.4,378.4 122.8,378.1 124.0,378.2 C125.2,378.3 125.8,379.1 127.0,379.0 C128.2,378.9 129.4,378.1 131.0,377.6 C132.6,377.1 134.9,376.6 136.7,376.2 C138.5,375.8 140.1,375.5 142.0,375.0 C143.9,374.5 146.5,373.6 148.0,373.0 C149.5,372.4 150.0,371.9 150.8,371.2 C151.6,370.5 152.3,369.9 153.0,369.0 C153.7,368.1 154.5,367.0 155.2,366.0 C155.9,365.0 156.5,363.9 157.0,363.0 C157.5,362.1 157.9,361.3 158.3,360.5 C158.7,359.7 159.1,358.8 159.5,358.0 C159.9,357.2 160.3,356.3 160.7,355.5 C161.1,354.7 161.4,353.8 162.0,353.0 C162.6,352.2 163.3,351.2 164.0,350.5 C164.7,349.8 165.3,349.1 166.0,348.5 C166.7,347.9 167.7,347.4 168.3,347.0 C168.9,346.6 169.5,346.3 169.5,346.0 C169.5,345.7 169.2,345.4 168.5,345.2 C167.8,345.0 166.8,344.8 165.0,344.6 C163.2,344.4 160.3,344.2 158.0,344.1 C155.7,344.0 153.2,344.2 151.0,344.2 C148.8,344.2 147.0,344.2 145.0,344.3 C143.0,344.4 140.7,344.5 139.0,344.6 C137.3,344.7 136.3,345.0 135.0,345.0 C133.7,345.0 132.2,345.0 131.0,344.8 C129.8,344.6 128.9,344.0 128.0,343.6 C127.1,343.2 127.0,342.9 125.5,342.6 Z" fill="url(#liver2G)" stroke="#5a100f" stroke-width="0.700"/>
  <path d="M97,354 C101,351.500 106,350.500 112,350.300" fill="none" stroke="#cf6f63" stroke-width="2.400" opacity="0.800" stroke-linecap="round" filter="url(#blur1)"/>
  <path d="M139,351.300 C144,350.300 149,350.200 155,350.600" fill="none" stroke="#cf6f63" stroke-width="2.200" opacity="0.750" stroke-linecap="round" filter="url(#blur1)"/>
  <path d="M123.300,342.300 C125.500,343.600 128.500,343.800 131,343.600 C129,347 128.500,352 128.900,357 C129.500,364 129.300,372 128.400,379.600 L126,379.400 C126.900,372 126.800,365 126,358 C125.400,353 125.200,347 123.300,342.300 Z" fill="#ae924c"/>
  <path d="M127,345 C126.800,352 127.500,360 127.600,368" fill="none" stroke="#cdb670" stroke-width="0.700" opacity="0.800"/>
</g>
<g id="armBig">
  <path d="M275.300,338 C277,335.500 279.500,335 281.900,335.300 C285,335.800 287.500,336.800 289.400,338.100 C292,339.500 294.500,341.500 296,343.800 C298,347 299.300,351 299.700,355 C300,359 299.500,362.500 299.700,366.300 C300,369.500 301,372.500 302.500,374.700 C306,375 310,374.500 313.800,373.800 C318.500,372.500 323,371 326.900,369 C329.500,367 332,364.800 334.400,362.500 C337,360.500 340,359.500 343,359 C344.500,357.500 346,357.300 347,358.400 C347.800,359.500 347.800,360.600 347.500,361.600 C350,360.800 353,360.500 355,361.600 C356.500,362.500 356.200,364 355,364.500 C356.500,365 357,366.800 355.800,368 C357,369 356.500,371 355,371.900 C355.500,373.500 354.500,375 353,375.300 C352.800,376.500 352,377 351.300,376.600 C349,377.300 346.500,377.500 343.800,377.500 C340.500,378 337.500,378.500 334.400,379.400 C330,381 325.500,383 321.300,385 C316.500,387.200 311.500,389.200 306.300,390.600 C302,392 297.500,393.200 293,393.400 C289.500,393.500 286.500,393 283.800,391.600 C281.500,390 279.500,387.800 278,385 C276.500,381 275.700,376.500 275.300,371.900 C274.500,365.500 273.800,359.500 273.400,353 C273.200,349 273.500,345 274.400,341.900 C274.600,340.500 275,339.200 275.300,338 Z" fill="url(#armG)"/>
  <path d="M290.300,341.900 C293.500,345 296.500,349.500 298.300,354.500 C299.300,358 299,362 298,365.500 C297.300,367.500 296.300,369.300 295,370 C292,366 289.500,361.500 288.300,357 C287.200,353.500 287,350 287.800,347 C288.300,345 289.200,343.200 290.300,341.900 Z" fill="url(#muscG)" stroke="#ecbdb8" stroke-width="0.900"/>
  <path d="M290.500,344 C292,350 293.500,358 295,368 M292,345 C294.500,350 296,357 296.500,366 M289.500,348 C290,354 292,361 294,367" fill="none" stroke="#e3a4a6" stroke-width="0.600" opacity="0.800"/>
</g>

<g id="arrows" fill="none" stroke-linecap="butt">
  <!-- glucose arrow -->
  <path d="M154.200,120.500 C166,133 176,146 182.200,155 C185,160 188,165 190.500,170 C193,175 195.500,180 197.200,185 C199.500,190 201,195 202.500,200 C205,207 205.800,214 205.600,220 C205.500,227 204.500,234 203,240 C202,245 200.500,250 198,256" stroke="#2450ae" stroke-width="2.700"/>
  <path d="M191.600,263.600 L192,250.500 C194,253.500 198,255.500 203,256 Z" fill="#2450ae" stroke="#2450ae" stroke-width="1" stroke-linejoin="miter"/>
  <!-- insulin arrow -->
  <path d="M288,152 C287,165 284,177 280,187 C278,193 276,199 274,204 C271.500,210 269,216 266,222 C263,227 260,232 256,236 C251,241 246,246 240,250 C234,254 227,258 216,262" stroke="#c98d1a" stroke-width="2.700"/>
  <path d="M205.600,264.600 L217.500,256 C215.800,259.500 216.500,263 219,266 Z" fill="#c98d1a" stroke="#c98d1a" stroke-width="1" stroke-linejoin="miter"/>
  <!-- outgoing arrows -->
  <path d="M208.700,315 C206,319 204,322 201.700,324.200 C198,327.500 194,330 185,333.500" stroke="#2450b4" stroke-width="3"/>
  <path d="M170.800,337.500 L182.500,327 C182,330 182.500,332.500 183.500,334.200 C184.500,336.500 186,339 188,341.200 Z" fill="#2450b4"/>
  <path d="M217.500,315 C218.500,319 219,323 219.200,326.700 C219.400,330 219.400,334 219.200,339" stroke="#2450b4" stroke-width="3"/>
  <path d="M217.500,350.300 L211.600,334.500 C214,336.500 216.500,338 219.200,338.300 C222,338 224.500,337 227.200,335.300 Z" fill="#2450b4"/>
  <path d="M227,315 C231,317 235,319.500 238.300,322.500 C243,326.500 247,331 252.500,338" stroke="#2450b4" stroke-width="3"/>
  <path d="M261,348 L246.300,340.300 C249,340 251,339.300 252.500,338.300 C254.500,336.500 256.500,334 258,330.300 Z" fill="#2450b4"/>
</g>
<g id="dots">
  <g fill="#3a62b8" stroke="#2a4ea6" stroke-width="0.500">
    <circle cx="181.800" cy="169.500" r="2.600"/><circle cx="201" cy="169.200" r="2.600"/>
    <circle cx="185.200" cy="182" r="2.600"/><circle cx="204.700" cy="180.800" r="2.600"/>
    <circle cx="190.200" cy="195.500" r="2.600"/><circle cx="209.700" cy="195.500" r="2.600"/>
    <circle cx="213" cy="210" r="2.600"/><circle cx="197.600" cy="216" r="2.600"/>
    <circle cx="197.600" cy="232.600" r="2.600"/><circle cx="213" cy="229" r="2.600"/>
    <circle cx="207.600" cy="244.400" r="2.600"/>
    <!-- inside vessel -->
    <circle cx="208" cy="286" r="2.600"/><circle cx="219" cy="286" r="2.600"/><circle cx="201" cy="292.400" r="2.600"/>
    <circle cx="211.600" cy="294.400" r="2.600"/><circle cx="229" cy="291.600" r="2.600"/><circle cx="227.600" cy="283" r="2.600"/>
    <circle cx="219.600" cy="299" r="2.600"/><circle cx="231" cy="300" r="2.600"/><circle cx="243.600" cy="290.400" r="2.600"/>
    <!-- below -->
    <circle cx="195" cy="319" r="2.600"/><circle cx="198" cy="335" r="2.600"/><circle cx="238.400" cy="332" r="2.600"/>
  </g>
  <g fill="#ea5b50" stroke="#cf3f39" stroke-width="0.500">
    <circle cx="214.400" cy="281" r="2.600"/><circle cx="202" cy="285" r="2.600"/><circle cx="214" cy="291" r="2.600"/>
    <circle cx="206.600" cy="297" r="2.600"/><circle cx="222.400" cy="292" r="2.600"/><circle cx="235.600" cy="285.600" r="2.600"/>
    <circle cx="238.400" cy="298" r="2.600"/>
  </g>
  <g fill="#f3b54a" stroke="#e2a236" stroke-width="0.500">
    <circle cx="266.400" cy="193" r="2.600"/><circle cx="277" cy="211" r="2.600"/><circle cx="261" cy="215.600" r="2.600"/>
    <circle cx="236" cy="258.600" r="2.600"/><circle cx="249.400" cy="258.600" r="2.600"/><circle cx="228.600" cy="267.500" r="2.600"/>
    <circle cx="252" cy="226" r="2.600"/><circle cx="244.400" cy="236" r="2.600"/><circle cx="262" cy="238.600" r="2.600"/>
    <circle cx="233" cy="244.400" r="2.600"/><circle cx="224.400" cy="247.600" r="2.600"/><circle cx="252" cy="247.600" r="2.600"/>
    <circle cx="202" cy="315" r="2.600"/><circle cx="188.600" cy="323.400" r="2.600"/><circle cx="210" cy="326" r="2.600"/>
    <circle cx="211" cy="343" r="2.600"/><circle cx="228" cy="323.400" r="2.600"/><circle cx="227.600" cy="343.600" r="2.600"/>
    <circle cx="244.400" cy="318.400" r="2.600"/><circle cx="252" cy="326" r="2.600"/>
  </g>
</g>

<g id="labels" opacity="0.999" fill="#050505" stroke="#050505" stroke-width="0.250" font-family="'Liberation Sans', sans-serif">
  <g font-size="24.600" font-weight="bold" fill="#0d6cb4" stroke="#0d6cb4" stroke-width="0.300">
    <text x="333.600" y="46.900" textLength="57" lengthAdjust="spacingAndGlyphs">TYPE</text>
    <text x="397" y="46.900" textLength="15" lengthAdjust="spacingAndGlyphs">2</text>
    <text x="417.600" y="46.900" textLength="116.400" lengthAdjust="spacingAndGlyphs">DIABETES</text>
  </g>
  <text x="330.600" y="163.600" font-size="13" textLength="51.300" lengthAdjust="spacingAndGlyphs">Pancreas</text>
  <text x="128.700" y="211.700" font-size="13.500" font-weight="bold" fill="#2055a6" stroke="#2055a6" textLength="51.600" lengthAdjust="spacingAndGlyphs">Glucose</text>
  <text x="223.700" y="211.600" font-size="13.500" font-weight="bold" fill="#e9c034" stroke="#e9c034" textLength="42" lengthAdjust="spacingAndGlyphs">Insulin</text>
  <text x="55" y="229" font-size="13" textLength="116.500" lengthAdjust="spacingAndGlyphs">Glucose in extracted</text>
  <text x="42.800" y="242" font-size="13" textLength="144" lengthAdjust="spacingAndGlyphs">from food in the stomach</text>
  <text x="279.300" y="233.700" font-size="13" textLength="203.500" lengthAdjust="spacingAndGlyphs">Insuline is produced in the pancreas</text>
  <text x="255" y="288.700" font-size="13" textLength="153" lengthAdjust="spacingAndGlyphs">Blood sugar levels increase</text>
  <text x="262.300" y="302" font-size="13" textLength="137.500" lengthAdjust="spacingAndGlyphs">due to insulin resistance</text>
  <text x="170.500" y="363" font-size="10.600" textLength="87.500" lengthAdjust="spacingAndGlyphs">Organs and muscles</text>
  <text x="153" y="373.500" font-size="10.600" textLength="122" lengthAdjust="spacingAndGlyphs">no longer respond to insulin</text>
  <text x="170.500" y="383.700" font-size="10.600" textLength="86.300" lengthAdjust="spacingAndGlyphs">(insuline resistance)</text>
  <text x="163.300" y="393.800" font-size="10.600" textLength="99.500" lengthAdjust="spacingAndGlyphs">and ingest less glucose</text>
</g>

</svg>
</body></html>
